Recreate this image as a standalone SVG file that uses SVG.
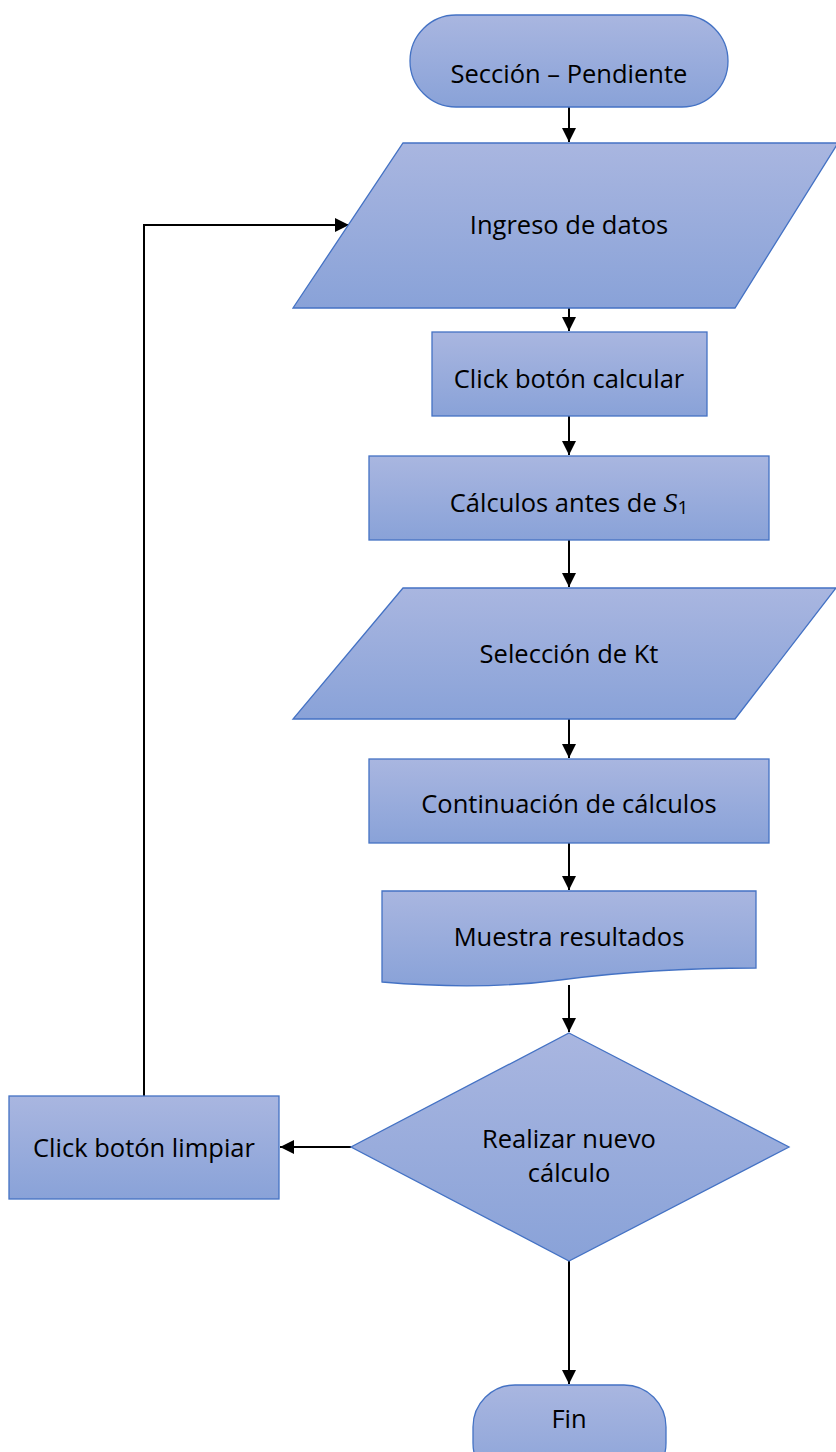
<svg xmlns="http://www.w3.org/2000/svg" width="836" height="1452" viewBox="0 0 836 1452">
<defs>
<linearGradient id="g" x1="0" y1="0" x2="0" y2="1">
<stop offset="0" stop-color="#a9b6e0"/>
<stop offset="1" stop-color="#89a2d8"/>
</linearGradient>
<marker id="ah" markerWidth="14" markerHeight="14" viewBox="0 0 14 14" refX="14" refY="7" orient="auto" markerUnits="userSpaceOnUse">
<path d="M0,0 L14,7 L0,14 Z" fill="#000"/>
</marker>
<style>
.n{fill:url(#g);stroke:#4472c4;stroke-width:1.3}
.t{font-family:"Open Sans","Liberation Sans",sans-serif;font-size:25.5px;fill:#000;text-anchor:middle;dominant-baseline:central}
.c{fill:none;stroke:#000;stroke-width:2}
</style>
</defs>
<rect width="836" height="1452" fill="#fff"/>
<g id="connectors">
<line class="c" x1="569" y1="107" x2="569" y2="142" marker-end="url(#ah)"/>
<line class="c" x1="569" y1="308" x2="569" y2="331" marker-end="url(#ah)"/>
<line class="c" x1="569" y1="416" x2="569" y2="455" marker-end="url(#ah)"/>
<line class="c" x1="569" y1="540" x2="569" y2="587" marker-end="url(#ah)"/>
<line class="c" x1="569" y1="719" x2="569" y2="758" marker-end="url(#ah)"/>
<line class="c" x1="569" y1="843" x2="569" y2="890" marker-end="url(#ah)"/>
<line class="c" x1="569" y1="985" x2="569" y2="1032" marker-end="url(#ah)"/>
<line class="c" x1="351" y1="1147" x2="280" y2="1147" marker-end="url(#ah)"/>
<polyline class="c" points="144,1096 144,225 349,225" marker-end="url(#ah)"/>
<line class="c" x1="569" y1="1261" x2="569" y2="1384" marker-end="url(#ah)"/>
</g>
<g id="start">
<rect class="n" x="410" y="15" width="318" height="92" rx="46" ry="46"/>
<text class="t" x="569" y="73">Sección – Pendiente</text>
</g>
<g id="ingreso">
<polygon class="n" points="403,143 838,143 735,308 293,308"/>
<text class="t" x="569" y="224">Ingreso de datos</text>
</g>
<g id="calcular">
<rect class="n" x="432" y="332" width="275" height="84"/>
<text class="t" x="569" y="378">Click botón calcular</text>
</g>
<g id="antes">
<rect class="n" x="369" y="456" width="400" height="84"/>
<text class="t" x="569" y="502">Cálculos antes de <tspan font-family="Liberation Serif,serif" font-style="italic" font-size="28">S</tspan><tspan font-size="19" dy="5">1</tspan></text>
</g>
<g id="kt">
<polygon class="n" points="403,588 836,588 735,719 293,719"/>
<text class="t" x="569" y="653">Selección de Kt</text>
</g>
<g id="continuacion">
<rect class="n" x="369" y="759" width="400" height="84"/>
<text class="t" x="569" y="803">Continuación de cálculos</text>
</g>
<g id="muestra">
<path class="n" d="M382,891 L756,891 L756,968 C680,968 620,972 560,980 C500,988 440,987 382,982 Z"/>
<text class="t" x="569" y="936">Muestra resultados</text>
</g>
<g id="decision">
<polygon class="n" points="569,1033 789,1147 569,1261 351,1147"/>
<text class="t" x="569" y="1138">Realizar nuevo</text>
<text class="t" x="569" y="1172">cálculo</text>
</g>
<g id="limpiar">
<rect class="n" x="9" y="1096" width="270" height="103"/>
<text class="t" x="144" y="1147">Click botón limpiar</text>
</g>
<g id="fin">
<rect class="n" x="473" y="1385" width="193" height="100" rx="42" ry="42"/>
<text class="t" x="569" y="1418">Fin</text>
</g>
</svg>
